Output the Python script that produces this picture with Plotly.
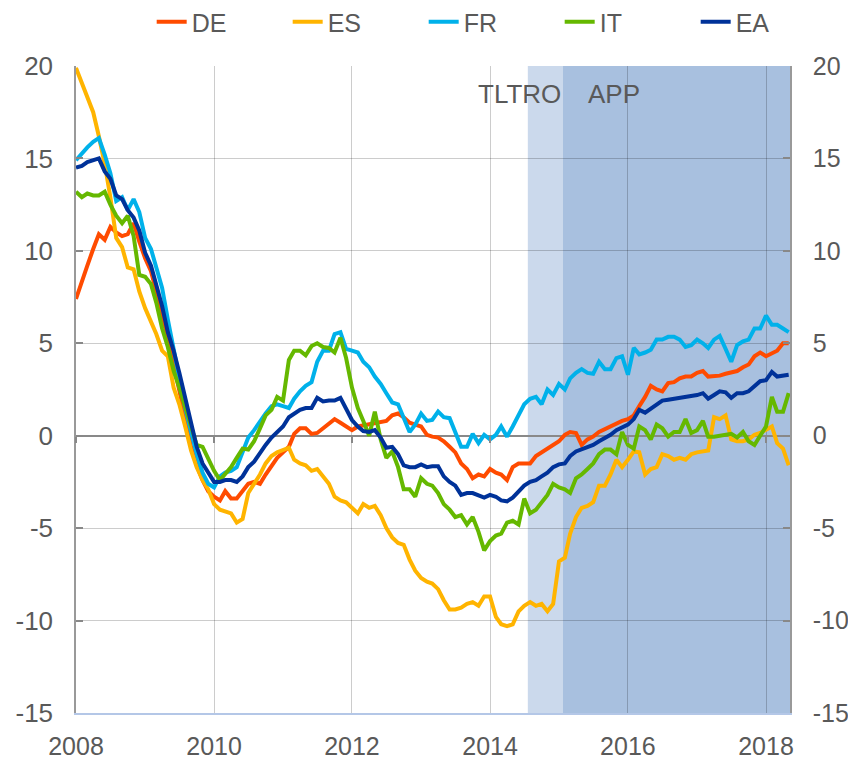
import pandas as pd
import plotly.graph_objects as go

dates = pd.date_range("2008-01-01", periods=125, freq="MS")

DE = [7.4, 8.4, 9.2, 10.1, 10.9, 10.6, 11.3, 11.0, 10.8, 10.9, 11.5, 10.5,
      9.6, 8.9, 7.9, 6.6, 5.3, 3.9, 2.4, 1.0, -0.6, -1.6, -2.4, -3.0,
      -3.3, -3.5, -3.0, -3.4, -3.4, -3.0, -2.6, -2.5, -2.6, -2.1, -1.6, -1.2,
      -0.9, -0.6, 0.1, 0.4, 0.4, 0.1, 0.15, 0.4, 0.6, 0.9, 0.7, 0.5,
      0.3, 0.5, 0.55, 0.6, 0.7, 0.75, 0.8, 1.1, 1.2, 1.0, 0.7, 0.6,
      0.5, 0.05, -0.05, -0.1, -0.3, -0.6, -0.9, -1.5, -1.8, -2.3, -2.1, -2.2,
      -1.8, -2.0, -2.1, -2.4, -1.7, -1.5, -1.5, -1.5, -1.1, -0.9, -0.7, -0.5,
      -0.3, 0.05, 0.2, 0.15, -0.5, -0.2, -0.05, 0.2, 0.35, 0.5, 0.7, 0.8,
      0.9, 1.1, 1.6, 2.1, 2.7, 2.5, 2.4, 2.85, 2.9, 3.1, 3.2, 3.2,
      3.4, 3.5, 3.2, 3.2, 3.25, 3.35, 3.4, 3.5, 3.7, 3.85, 4.3, 4.5,
      4.3, 4.45, 4.6, 5.0, 5.0]

ES = [19.9, 19.1, 18.4, 17.5, 16.2, 14.7, 12.9, 10.7, 10.2, 9.1, 9.0, 7.8,
      6.9, 6.2, 5.5, 4.6, 4.3, 2.6, 1.7, 0.5, -0.8, -1.7, -2.4, -2.9,
      -3.7, -4.0, -4.1, -4.2, -4.7, -4.5, -3.1, -2.6, -2.1, -1.5, -1.1, -0.9,
      -0.8, -0.65, -1.3, -1.5, -1.6, -1.9, -1.8, -2.2, -2.6, -3.3, -3.5, -3.6,
      -3.9, -4.2, -3.7, -3.9, -3.8, -4.3, -5.0, -5.5, -5.8, -5.9, -6.7, -7.3,
      -7.7, -7.9, -8.0, -8.3, -8.9, -9.4, -9.4, -9.3, -9.1, -9.0, -9.2, -8.7,
      -8.7, -9.8, -10.2, -10.3, -10.2, -9.5, -9.2, -9.0, -9.2, -9.1, -9.5, -9.1,
      -6.8, -6.6, -5.3, -4.4, -3.9, -3.8, -3.6, -2.7, -2.7, -2.1, -1.3, -1.7,
      -1.3, -0.85, -0.9, -2.1, -1.8, -1.7, -1.0, -1.1, -1.3, -1.2, -1.3, -1.0,
      -0.9, -0.85, -0.8, 1.0, 0.9, 1.1, -0.2, -0.3, -0.3, -0.2, 0.05, 0.15,
      0.3, 0.5, -0.4, -0.7, -1.6]

FR = [14.9, 15.3, 15.6, 15.9, 16.1, 15.2, 14.2, 12.7, 12.9, 12.2, 12.8, 12.1,
      10.7, 10.1, 9.1, 8.0, 6.3, 4.6, 3.1, 1.5, 0.2, -1.0, -2.0, -2.6,
      -2.8, -2.2, -2.0, -1.9, -1.7, -0.9, -0.1, 0.3, 0.8, 1.2, 1.6, 1.7,
      1.6, 1.5, 2.0, 2.4, 2.7, 2.9, 4.0, 4.6, 4.6, 5.5, 5.6, 4.7,
      4.6, 4.5, 4.0, 3.7, 3.2, 2.8, 2.3, 1.8, 1.7, 1.0, 0.2, 0.6,
      1.2, 0.8, 0.85, 1.3, 1.0, 0.95, 0.2, -0.6, -0.6, 0.1, -0.4, 0.05,
      -0.2, 0.05, 0.5, -0.05, 0.5, 1.1, 1.7, 2.0, 2.1, 1.7, 2.5, 2.2,
      2.8, 2.5, 3.1, 3.4, 3.6, 3.4, 3.35, 4.0, 3.6, 3.6, 4.2, 4.3,
      3.3, 4.75, 4.4, 4.5, 4.65, 5.2, 5.2, 5.35, 5.35, 5.2, 4.8, 4.9,
      5.2, 5.0, 4.75, 5.2, 5.4, 4.7, 4.0, 4.9, 5.1, 5.2, 5.8, 5.8,
      6.5, 6.0, 6.0, 5.8, 5.6]

IT = [13.2, 12.9, 13.1, 13.0, 13.0, 13.2, 12.5, 11.9, 11.5, 11.9, 10.8, 8.7,
      8.6, 8.2, 7.2, 5.8, 4.8, 3.5, 2.6, 1.6, 0.6, -0.5, -0.6, -1.3,
      -1.9, -2.4, -2.1, -1.7, -1.2, -0.7, -0.75, -0.3, 0.4, 1.1, 1.4, 2.1,
      1.9, 4.1, 4.6, 4.6, 4.35, 4.85, 5.0, 4.8, 4.75, 4.5, 5.3, 4.2,
      2.6, 1.5, 0.8, 0.0, 1.3, -0.2, -1.2, -0.85, -1.7, -2.9, -2.9, -3.3,
      -2.3, -2.6, -2.7, -3.1, -3.7, -4.0, -4.4, -4.3, -4.8, -4.4, -5.2, -6.2,
      -5.7, -5.4, -5.3, -4.7, -4.6, -4.8, -3.4, -4.2, -4.0, -3.6, -3.2, -2.6,
      -2.8, -2.9, -3.1, -2.3, -2.1, -1.8, -1.5, -1.0, -0.75, -0.75, -1.0, 0.2,
      -0.5, -0.7, 0.5, 0.3, -0.2, 0.6, 0.4, -0.05, 0.2, 0.2, 0.9, 0.15,
      0.3, 0.8, -0.05, -0.05, 0.0, 0.05, 0.1, -0.1, 0.2, -0.3, -0.5, 0.0,
      0.5, 2.1, 1.3, 1.3, 2.3]

EA = [14.5, 14.6, 14.8, 14.9, 15.0, 14.3, 13.9, 13.0, 12.8, 12.2, 11.8, 11.1,
      9.9, 9.2, 8.2, 7.0, 5.6, 4.6, 3.4, 2.0, 0.8, -0.6, -1.5, -2.0,
      -2.5, -2.5, -2.4, -2.4, -2.5, -2.2, -1.7, -1.4, -0.9, -0.5, -0.1, 0.2,
      0.5, 1.0, 1.2, 1.4, 1.5, 1.5, 2.05, 1.85, 1.9, 1.9, 2.05, 1.5,
      0.85, 0.5, 0.25, 0.2, 0.3, -0.1, -0.65, -0.6, -1.0, -1.6, -1.7, -1.7,
      -1.55, -1.7, -1.65, -1.65, -2.2, -2.5, -2.7, -3.2, -3.1, -3.1, -3.2, -3.35,
      -3.2, -3.3, -3.5, -3.55, -3.35, -3.0, -2.7, -2.5, -2.4, -2.2, -2.0, -1.7,
      -1.55, -1.5, -1.1, -0.85, -0.75, -0.65, -0.5, -0.3, -0.15, 0.05, 0.3, 0.45,
      0.6, 0.9, 1.4, 1.25, 1.45, 1.7, 1.9, 1.95, 2.0, 2.05, 2.1, 2.1,
      2.2, 2.3, 2.0, 2.2, 2.4, 2.35, 2.05, 2.3, 2.3, 2.4, 2.7, 2.95,
      3.0, 3.45, 3.2, 3.25, 3.3]

series_names = ["DE", "ES", "FR", "IT", "EA"]
series_values = [DE, ES, FR, IT, EA]
series_colors = ["#FF4B00", "#FFB400", "#00B1EA", "#65B800", "#003299"]

periods = ["TLTRO", "APP"]
period_start = ["2014-07-20", "2015-01-22"]
period_end = ["2015-01-22", "2018-05-08"]
period_colors = ["#CBD9EC", "#A8C0DF"]
period_label_x = ["2014-06-08", "2015-10-20"]

y_ticks = [-15, -10, -5, 0, 5, 10, 15, 20]
y_tick_text = ["-15", "-10", "-5", "0", "5", "10", "15", "20"]
x_range = ["2008-01-01", "2018-05-08"]

TXT = "#595959"
FONT = "Liberation Sans, Arial, sans-serif"

fig = go.Figure()
for name, vals, col in zip(series_names, series_values, series_colors):
    fig.add_trace(go.Scatter(x=dates, y=vals, name=name, mode="lines",
                             line=dict(color=col, width=4)))

# empty helper trace so that the secondary (right / zero-line) axes are drawn
fig.add_trace(go.Scatter(x=[dates[0]], y=[None], xaxis="x2", yaxis="y2",
                         mode="lines", showlegend=False, hoverinfo="skip"))

for p, s, e, c in zip(periods, period_start, period_end, period_colors):
    fig.add_shape(type="rect", xref="x", yref="paper", x0=s, x1=e, y0=0, y1=1,
                  fillcolor=c, line=dict(width=0), layer="below")

for p, lx in zip(periods, period_label_x):
    fig.add_annotation(x=lx, y=18.5, xref="x", yref="y", text=p, showarrow=False,
                       font=dict(size=26, color=TXT, family=FONT),
                       xanchor="center", yanchor="middle")

fig.update_layout(
    width=848, height=751,
    margin=dict(l=68, r=66, t=58, b=45.5, autoexpand=False),
    paper_bgcolor="white", plot_bgcolor="white",
    font=dict(family=FONT, color=TXT, size=25),
    showlegend=True,
    legend=dict(orientation="h", x=0.106, xanchor="left", y=1.068, yanchor="middle",
                font=dict(size=25, color=TXT, family=FONT),
                entrywidth=91, entrywidthmode="pixels",
                bgcolor="rgba(0,0,0,0)", borderwidth=0),
    xaxis=dict(type="date", range=x_range, dtick="M24", tick0="2008-01-01",
               tickformat="%Y", showgrid=True, gridcolor="rgba(0,0,0,0.2)", gridwidth=1,
               showline=True, linecolor="#B4C7E7", linewidth=1.5, ticks="",
               zeroline=False, tickfont=dict(size=25, color=TXT),
               ticklabelstandoff=10, automargin=False),
    xaxis2=dict(type="date", range=x_range, overlaying="x", anchor="free",
                position=15 / 35, showgrid=False, showline=False, ticks="outside",
                ticklen=6, tickwidth=1.5, tickcolor="#888888", dtick="M24",
                tick0="2008-01-01", showticklabels=False, zeroline=False,
                automargin=False),
    yaxis=dict(range=[-15, 20], tickvals=y_ticks, ticktext=y_tick_text, showgrid=True,
               gridcolor="rgba(0,0,0,0.2)", gridwidth=1,
               zeroline=True, zerolinecolor="#898989", zerolinewidth=2,
               showline=True, linecolor="#999999", linewidth=1.5,
               ticks="inside", ticklen=7, tickcolor="#888888", tickwidth=1.5,
               tickfont=dict(size=26, color=TXT), ticklabelstandoff=16,
               automargin=False),
    yaxis2=dict(range=[-15, 20], tickvals=y_ticks, ticktext=y_tick_text,
                overlaying="y", side="right",
                anchor="x", showgrid=False, zeroline=False,
                showline=True, linecolor="#999999", linewidth=1.5,
                ticks="inside", ticklen=7, tickcolor="#888888", tickwidth=1.5,
                tickfont=dict(size=25, color=TXT), ticklabelstandoff=16,
                automargin=False),
)

fig.write_html("out.html")
